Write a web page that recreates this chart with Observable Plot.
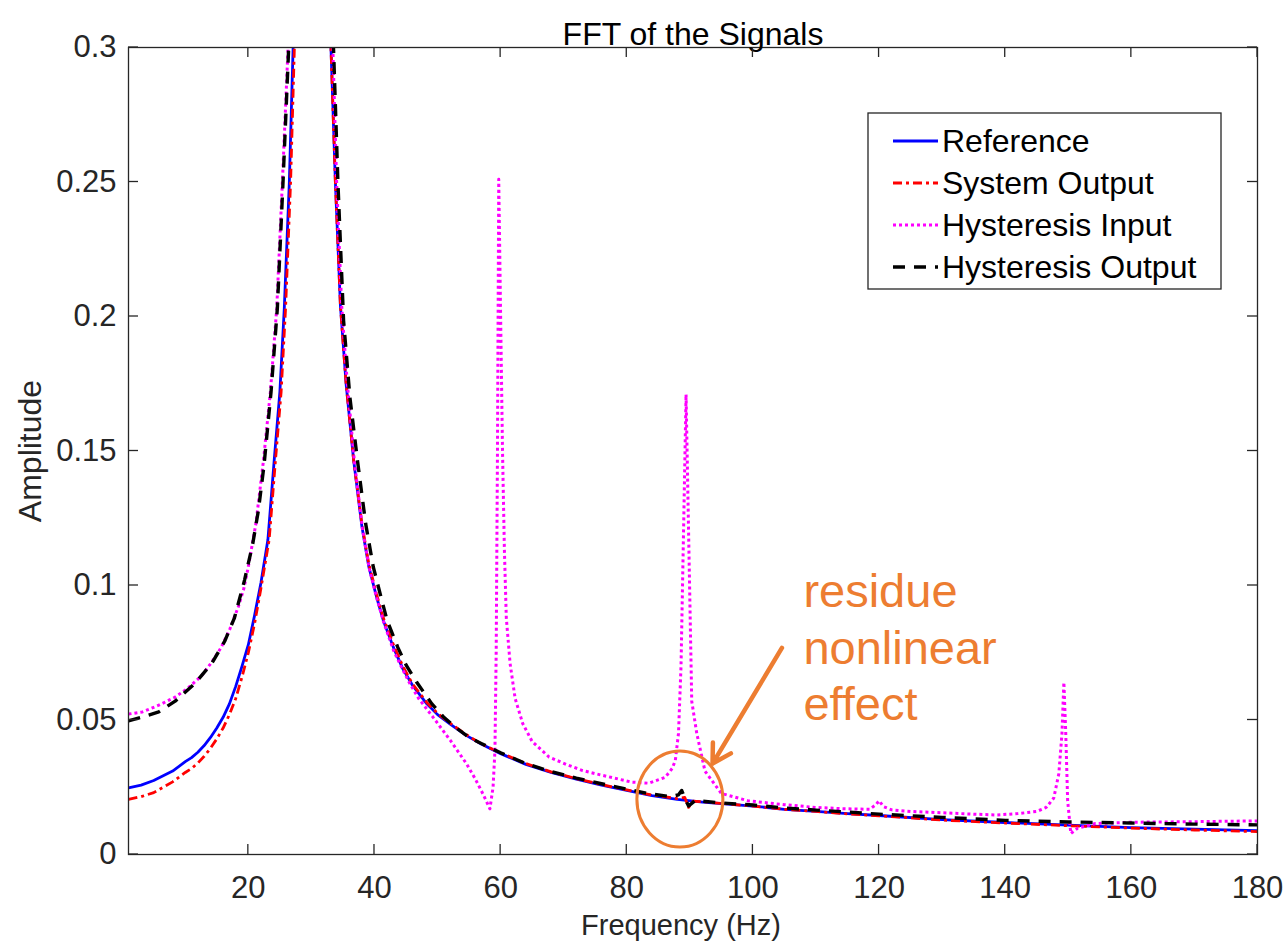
<!DOCTYPE html>
<html>
<head>
<meta charset="utf-8">
<script src="https://cdn.jsdelivr.net/npm/d3@7"></script>
<script src="https://cdn.jsdelivr.net/npm/@observablehq/plot@0.6"></script>
<style>
  body { margin: 0; background: #fff; }
  #chart { position: relative; width: 1287px; height: 950px; }
</style>
</head>
<body>
<div id="chart"></div>
<script>
// ---------------- DATA ----------------
const xTicks = [20, 40, 60, 80, 100, 120, 140, 160, 180];
const yTicks = [0, 0.05, 0.1, 0.15, 0.2, 0.25, 0.3];
const yTickLabels = ["0", "0.05", "0.1", "0.15", "0.2", "0.25", "0.3"];
const seriesNames = ["Reference", "System Output", "Hysteresis Input", "Hysteresis Output"];

const refF = [1, 3, 5, 8, 10, 11, 12, 13, 14, 15, 16, 17, 18, 19, 20, 21, 22, 23.1, 24.1, 25, 25.7, 26.5, 27.1, 28, 29, 30, 31, 32, 33.1, 33.8, 34.6, 35.5, 36.7, 38, 39.1, 40.3, 41.4, 43, 44.5, 46, 48.3, 50, 52, 54.6, 57, 60, 64, 68, 72, 76, 80, 84, 88, 92, 96, 100, 105, 110, 115, 120, 130, 140, 150, 160, 170, 180];
const refA = [0.0248, 0.0258, 0.0275, 0.031, 0.0345, 0.036, 0.038, 0.0405, 0.0435, 0.047, 0.051, 0.056, 0.0625, 0.070, 0.078, 0.089, 0.101, 0.117, 0.1465, 0.172, 0.203, 0.25, 0.3, 0.45, 0.8, 1.2, 0.8, 0.45, 0.3, 0.25, 0.204, 0.175, 0.1465, 0.122, 0.107, 0.096, 0.087, 0.077, 0.069, 0.063, 0.056, 0.052, 0.0485, 0.0442, 0.041, 0.0375, 0.0335, 0.0305, 0.028, 0.0258, 0.0238, 0.0219, 0.0205, 0.0195, 0.0187, 0.018, 0.0168, 0.016, 0.0152, 0.0145, 0.013, 0.0119, 0.0109, 0.0100, 0.0094, 0.0089];

const sysF = [1, 3, 5, 8, 10, 11, 12, 13, 14, 15, 16, 17, 18, 19, 20, 21, 22, 23.3, 24.3, 25.2, 25.9, 26.7, 27.3, 28, 29, 30, 31, 32, 33.1, 33.8, 34.6, 35.5, 36.7, 38, 39.1, 40.3, 41.4, 43, 44.5, 46, 48.3, 50, 52, 54.6, 57, 60, 64, 68, 72, 76, 80, 84, 88, 89.2, 89.8, 90.5, 92, 96, 100, 105, 110, 115, 120, 130, 140, 150, 160, 170, 180];
const sysA = [0.0205, 0.0215, 0.023, 0.027, 0.0305, 0.032, 0.034, 0.0365, 0.0395, 0.043, 0.047, 0.052, 0.058, 0.066, 0.075, 0.086, 0.099, 0.117, 0.1465, 0.172, 0.203, 0.25, 0.3, 0.42, 0.75, 1.2, 0.8, 0.45, 0.3, 0.25, 0.204, 0.175, 0.1465, 0.123, 0.108, 0.097, 0.088, 0.078, 0.070, 0.0635, 0.0565, 0.0525, 0.0488, 0.0445, 0.041, 0.0378, 0.0338, 0.0307, 0.0282, 0.026, 0.024, 0.0221, 0.0208, 0.0212, 0.0175, 0.0198, 0.0196, 0.0188, 0.018, 0.0168, 0.016, 0.0151, 0.0144, 0.0128, 0.0117, 0.0107, 0.0098, 0.0091, 0.0085];

const hinF = [1, 3.2, 5.8, 8.4, 10.5, 12.6, 14.2, 15.7, 17.1, 18.4, 19.3, 20, 21.2, 22.4, 23.5, 24.5, 25.4, 26.3, 27.5, 28.5, 30, 31.5, 32.5, 33.4, 34, 34.8, 35.7, 36.8, 38.1, 39.2, 40.4, 41.5, 43, 44.1, 45.5, 47, 49.3, 52, 54.6, 56, 57.2, 58.3, 58.8, 59.1, 59.3, 59.5, 59.7, 60.0, 60.3, 60.6, 60.9, 61.5, 62.3, 63.5, 65, 67.7, 70.4, 73, 76, 80.8, 83.5, 86.1, 87.2, 87.7, 88.2, 88.6, 89.0, 89.4, 89.8, 90.3, 91.1, 92.4, 95, 99.2, 105, 110, 114.5, 118.5, 119.5, 120, 120.7, 122, 125, 130, 135, 138.6, 142, 145, 146.5, 147.7, 148.5, 149.0, 149.3, 149.6, 149.9, 150.4, 151.5, 154.3, 160, 170, 180];
const hinA = [0.0522, 0.053, 0.0555, 0.0585, 0.062, 0.0665, 0.0715, 0.077, 0.084, 0.092, 0.099, 0.107, 0.123, 0.1465, 0.172, 0.203, 0.25, 0.3, 0.45, 0.8, 1.2, 0.8, 0.45, 0.3, 0.25, 0.204, 0.175, 0.1465, 0.121, 0.106, 0.095, 0.086, 0.076, 0.0705, 0.064, 0.058, 0.051, 0.0425, 0.0337, 0.028, 0.0225, 0.017, 0.025, 0.0387, 0.076, 0.15, 0.251, 0.2, 0.15, 0.113, 0.088, 0.071, 0.058, 0.0487, 0.042, 0.0362, 0.0335, 0.0312, 0.0295, 0.0269, 0.0265, 0.0287, 0.032, 0.035, 0.045, 0.07, 0.12, 0.171, 0.12, 0.057, 0.045, 0.031, 0.0227, 0.020, 0.0185, 0.0175, 0.017, 0.0168, 0.0185, 0.020, 0.0178, 0.0166, 0.016, 0.0155, 0.015, 0.0147, 0.0152, 0.016, 0.0175, 0.021, 0.03, 0.045, 0.064, 0.045, 0.02, 0.0078, 0.0098, 0.0115, 0.012, 0.0122, 0.0125];

const houtF = [1, 3, 5.8, 8.4, 11.5, 14.2, 16.3, 17.8, 19.4, 20.7, 21.6, 22.5, 23.6, 24.6, 25.5, 26.4, 27.5, 28.5, 30, 31.5, 32.5, 33.5, 34.2, 35.1, 36.1, 37.3, 38.6, 39.8, 41, 42, 43.7, 45, 46.7, 49.1, 51, 53, 55, 57, 60, 64, 68, 72, 76, 80, 83.5, 87, 88.2, 88.7, 89.2, 89.8, 90.8, 92, 96, 100, 105, 110, 115, 120, 130, 140, 150, 160, 170, 180];
const houtA = [0.0497, 0.051, 0.053, 0.057, 0.0635, 0.071, 0.0795, 0.088, 0.102, 0.1155, 0.128, 0.145, 0.172, 0.203, 0.25, 0.3, 0.45, 0.8, 1.2, 0.8, 0.45, 0.3, 0.25, 0.1985, 0.17, 0.1465, 0.123, 0.107, 0.096, 0.087, 0.077, 0.0705, 0.064, 0.056, 0.051, 0.047, 0.0435, 0.0412, 0.0378, 0.0338, 0.0308, 0.0284, 0.0263, 0.0243, 0.0226, 0.0215, 0.0222, 0.0238, 0.021, 0.018, 0.020, 0.0198, 0.019, 0.0184, 0.0173, 0.0165, 0.0158, 0.015, 0.0138, 0.0127, 0.0121, 0.0117, 0.0113, 0.011];

// annotation anchors (data coordinates)
const noteText = ["residue", "nonlinear", "effect"];
const notePos = [108, 0.0777];            // [freq, amp] of the text block
const arrowFrom = [104.6, 0.0768];
const arrowTo = [93.6, 0.0338];
const circleCenter = [88.5, 0.0204];

// ---------------- STYLES ----------------
const FONT = "'Liberation Sans', Arial, Helvetica, sans-serif";
const INK = "#262626";
const ORANGE = "#ED7D31";
const styles = [
  {stroke: "#0000FF", dash: null, width: 2.8},
  {stroke: "#FF0000", dash: "9,4,3,4", width: 2.8},
  {stroke: "#FF00FF", dash: "3,3", width: 3},
  {stroke: "#000000", dash: "12,9", width: 3.4}
];

const rows = (F, A) => F.map((f, i) => ({f, a: A[i]}));
const data = [rows(refF, refA), rows(sysF, sysA), rows(hinF, hinA), rows(houtF, houtA)];

const lineMarks = data.map((d, i) => Plot.line(d, {
  x: "f", y: "a", stroke: styles[i].stroke, strokeWidth: styles[i].width,
  strokeDasharray: styles[i].dash, strokeLinecap: "butt", strokeLinejoin: "round",
  clip: true, curve: "linear"
}));

const plot = Plot.plot({
  width: 1287, height: 950,
  marginLeft: 128, marginRight: 30, marginTop: 47, marginBottom: 96,
  x: {domain: [1, 180]},
  y: {domain: [0, 0.3]},
  style: {fontFamily: FONT, fontSize: "31px", color: INK, background: "#fff", overflow: "visible"},
  marks: [
    Plot.axisX({ticks: xTicks, tickSize: 0, tickPadding: 21, label: null, fontSize: 31, fill: INK}),
    Plot.axisY({ticks: yTicks, tickSize: 0, tickPadding: 12, label: null, fontSize: 31, fill: INK,
      tickFormat: d => yTickLabels[yTicks.indexOf(d)]}),
    ...lineMarks,
    Plot.frame({stroke: INK, strokeWidth: 1.3}),
    Plot.text(["FFT of the Signals"], {frameAnchor: "top", dy: -25, fontSize: 32, fill: "#000"}),
    Plot.text(["Frequency (Hz)"], {frameAnchor: "bottom", dx: -12, dy: 80, fontSize: 29, fill: INK}),
    Plot.text(["Amplitude"], {frameAnchor: "left", textAnchor: "middle", dx: -98, rotate: -90, fontSize: 32, fill: INK}),
    Plot.text([noteText.join("\n")], {x: () => notePos[0], y: () => notePos[1], textAnchor: "start",
      lineAnchor: "middle", lineHeight: 1.2, fontSize: 47, fill: ORANGE}),
    Plot.arrow([0], {x1: () => arrowFrom[0], y1: () => arrowFrom[1], x2: () => arrowTo[0], y2: () => arrowTo[1],
      stroke: ORANGE, strokeWidth: 4.5, headLength: 7})
  ]
});
document.getElementById("chart").append(plot);

// ---------------- decorations via scales ----------------
const svg = d3.select(plot.tagName.toLowerCase() === "svg" ? plot : plot.querySelector("svg"));
const xs = plot.scale("x"), ys = plot.scale("y");
const L = 128, R = 1257, T = 47, B = 854, TL = 10;
const g = svg.append("g").attr("stroke", INK).attr("stroke-width", 1.3);
xTicks.forEach(t => {
  const x = xs.apply(t);
  g.append("line").attr("x1", x).attr("x2", x).attr("y1", B).attr("y2", B - TL);
  g.append("line").attr("x1", x).attr("x2", x).attr("y1", T).attr("y2", T + TL);
});
yTicks.forEach(t => {
  const y = ys.apply(t);
  g.append("line").attr("x1", L).attr("x2", L + TL).attr("y1", y).attr("y2", y);
  g.append("line").attr("x1", R).attr("x2", R - TL).attr("y1", y).attr("y2", y);
});

// circle around the residue
svg.append("ellipse")
  .attr("cx", xs.apply(circleCenter[0])).attr("cy", ys.apply(circleCenter[1]))
  .attr("rx", 43).attr("ry", 48)
  .attr("fill", "none").attr("stroke", ORANGE).attr("stroke-width", 3);

// legend
const lg = svg.append("g").attr("font-family", FONT).attr("font-size", 32).attr("text-anchor", "start");
lg.append("rect").attr("x", 868).attr("y", 113).attr("width", 353).attr("height", 176)
  .attr("fill", "#fff").attr("stroke", INK).attr("stroke-width", 1.3);
seriesNames.forEach((name, i) => {
  const y = 141 + i * 42;
  lg.append("line").attr("x1", 893).attr("x2", 938).attr("y1", y).attr("y2", y)
    .attr("stroke", styles[i].stroke).attr("stroke-width", styles[i].width)
    .attr("stroke-dasharray", styles[i].dash).attr("stroke-linecap", "butt");
  lg.append("text").attr("x", 942).attr("y", y).attr("dy", "0.35em").attr("fill", "#000")
    .attr("text-anchor", "start").text(name);
});
</script>
</body>
</html>
